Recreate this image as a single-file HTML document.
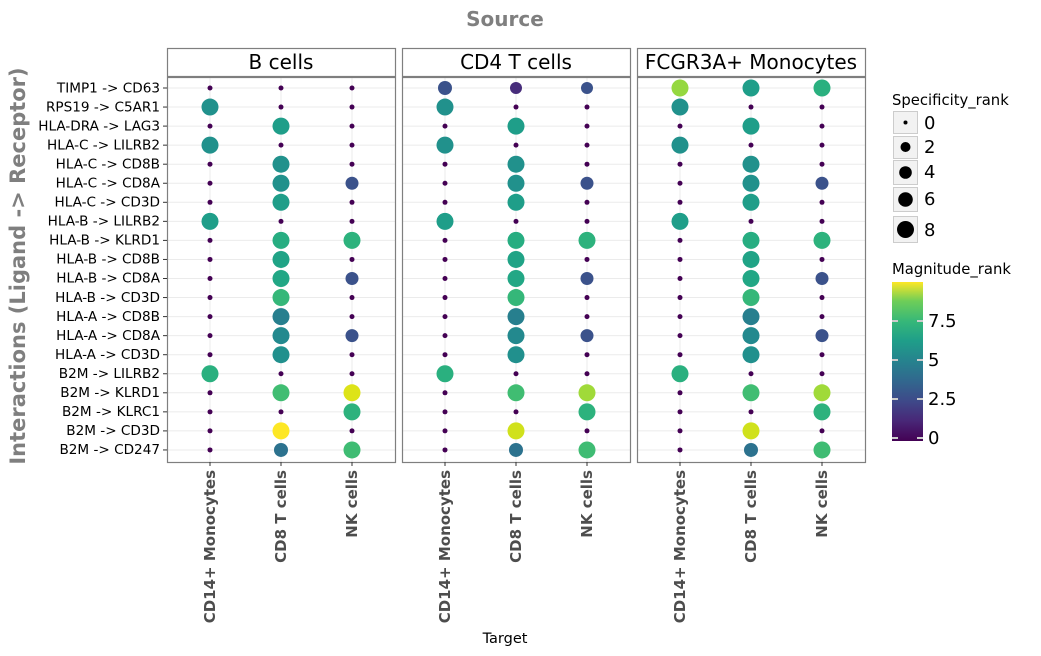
<!DOCTYPE html>
<html><head><meta charset="utf-8"><style>
body{margin:0;background:#fff}
svg{display:block;font-family:"DejaVu Sans","Liberation Sans",sans-serif}
</style></head><body>
<svg width="1041" height="656" viewBox="0 0 1041 656" xmlns="http://www.w3.org/2000/svg">
<defs>
<linearGradient id="vir" x1="0" y1="1" x2="0" y2="0">
<stop offset="0" stop-color="#440154"/><stop offset="0.13" stop-color="#482878"/><stop offset="0.25" stop-color="#3e4989"/><stop offset="0.38" stop-color="#31688e"/><stop offset="0.5" stop-color="#26828e"/><stop offset="0.63" stop-color="#1f9e89"/><stop offset="0.75" stop-color="#35b779"/><stop offset="0.88" stop-color="#6ece58"/><stop offset="1" stop-color="#fde725"/>
</linearGradient>
<g id="grid">
<rect x="0" y="77" width="228" height="385" fill="#fff"/>
<g stroke="#ebebeb" stroke-width="1">
<line x1="0" x2="228" y1="88" y2="88"/><line x1="0" x2="228" y1="107.05" y2="107.05"/><line x1="0" x2="228" y1="126.1" y2="126.1"/><line x1="0" x2="228" y1="145.15" y2="145.15"/><line x1="0" x2="228" y1="164.2" y2="164.2"/><line x1="0" x2="228" y1="183.25" y2="183.25"/><line x1="0" x2="228" y1="202.3" y2="202.3"/><line x1="0" x2="228" y1="221.35" y2="221.35"/><line x1="0" x2="228" y1="240.4" y2="240.4"/><line x1="0" x2="228" y1="259.45" y2="259.45"/><line x1="0" x2="228" y1="278.5" y2="278.5"/><line x1="0" x2="228" y1="297.55" y2="297.55"/><line x1="0" x2="228" y1="316.6" y2="316.6"/><line x1="0" x2="228" y1="335.65" y2="335.65"/><line x1="0" x2="228" y1="354.7" y2="354.7"/><line x1="0" x2="228" y1="373.75" y2="373.75"/><line x1="0" x2="228" y1="392.8" y2="392.8"/><line x1="0" x2="228" y1="411.85" y2="411.85"/><line x1="0" x2="228" y1="430.9" y2="430.9"/><line x1="0" x2="228" y1="449.95" y2="449.95"/>
<line x1="43" x2="43" y1="77" y2="462"/><line x1="114" x2="114" y1="77" y2="462"/><line x1="185" x2="185" y1="77" y2="462"/>
</g>
</g>
<g id="col" fill="#440154">
<circle cx="0" cy="88" r="2.5"/><circle cx="0" cy="107.05" r="2.5"/><circle cx="0" cy="126.1" r="2.5"/><circle cx="0" cy="145.15" r="2.5"/><circle cx="0" cy="164.2" r="2.5"/><circle cx="0" cy="183.25" r="2.5"/><circle cx="0" cy="202.3" r="2.5"/><circle cx="0" cy="221.35" r="2.5"/><circle cx="0" cy="240.4" r="2.5"/><circle cx="0" cy="259.45" r="2.5"/><circle cx="0" cy="278.5" r="2.5"/><circle cx="0" cy="297.55" r="2.5"/><circle cx="0" cy="316.6" r="2.5"/><circle cx="0" cy="335.65" r="2.5"/><circle cx="0" cy="354.7" r="2.5"/><circle cx="0" cy="373.75" r="2.5"/><circle cx="0" cy="392.8" r="2.5"/><circle cx="0" cy="411.85" r="2.5"/><circle cx="0" cy="430.9" r="2.5"/><circle cx="0" cy="449.95" r="2.5"/>
</g>
<g id="common">
<use href="#grid"/>
<use href="#col" x="43"/><use href="#col" x="114"/><use href="#col" x="185"/>
<circle cx="43" cy="107.05" r="8.5" fill="#21918c"/>
<circle cx="114" cy="126.1" r="8.5" fill="#1f9e89"/>
<circle cx="43" cy="145.15" r="8.5" fill="#21918c"/>
<circle cx="114" cy="164.2" r="8.5" fill="#21918c"/>
<circle cx="114" cy="183.25" r="8.5" fill="#21918c"/>
<circle cx="185" cy="183.25" r="6.5" fill="#3b528b"/>
<circle cx="114" cy="202.3" r="8.5" fill="#1f9e89"/>
<circle cx="43" cy="221.35" r="8.5" fill="#1f9e89"/>
<circle cx="114" cy="240.4" r="8.5" fill="#27ad81"/>
<circle cx="185" cy="240.4" r="8.5" fill="#2db27d"/>
<circle cx="114" cy="259.45" r="8.5" fill="#20a386"/>
<circle cx="114" cy="278.5" r="8.5" fill="#22a785"/>
<circle cx="185" cy="278.5" r="6.5" fill="#3b528b"/>
<circle cx="114" cy="297.55" r="8.5" fill="#35b779"/>
<circle cx="114" cy="316.6" r="8.5" fill="#277f8e"/>
<circle cx="114" cy="335.65" r="8.5" fill="#23898e"/>
<circle cx="185" cy="335.65" r="6.5" fill="#3b528b"/>
<circle cx="114" cy="354.7" r="8.5" fill="#21908d"/>
<circle cx="43" cy="373.75" r="8.5" fill="#2ab07f"/>
<circle cx="114" cy="392.8" r="8.5" fill="#40bd72"/>
<circle cx="185" cy="411.85" r="8.5" fill="#2db27d"/>
<circle cx="114" cy="449.95" r="7" fill="#2c728e"/>
<circle cx="185" cy="449.95" r="8.5" fill="#3fbc73"/>
</g>
</defs>

<text x="505" y="26" text-anchor="middle" font-size="20" font-weight="bold" fill="#7f7f7f">Source</text>
<text transform="translate(25,266) rotate(-90)" text-anchor="middle" font-size="21" font-weight="bold" fill="#7f7f7f">Interactions (Ligand -&gt; Receptor)</text>

<g transform="translate(167,0)">
<use href="#common"/>
<circle cx="185" cy="392.8" r="8.5" fill="#dde318"/>
<circle cx="114" cy="430.9" r="8.5" fill="#fde725"/>
</g>
<g transform="translate(402,0)">
<use href="#common"/>
<circle cx="43" cy="88" r="7" fill="#3b528b"/>
<circle cx="114" cy="88" r="6" fill="#472d7b"/>
<circle cx="185" cy="88" r="6" fill="#3b528b"/>
<circle cx="185" cy="392.8" r="8.5" fill="#a0da39"/>
<circle cx="114" cy="430.9" r="8.5" fill="#d0e11c"/>
</g>
<g transform="translate(637,0)">
<use href="#common"/>
<circle cx="43" cy="88" r="8.5" fill="#95d840"/>
<circle cx="114" cy="88" r="8.5" fill="#1f9e89"/>
<circle cx="185" cy="88" r="8.5" fill="#2ab07f"/>
<circle cx="185" cy="392.8" r="8.5" fill="#a0da39"/>
<circle cx="114" cy="430.9" r="8.5" fill="#d0e11c"/>
</g>

<g fill="none" stroke="#7f7f7f" stroke-width="1.2">
<rect x="167.5" y="77.5" width="228" height="385"/><rect x="402.5" y="77.5" width="228" height="385"/><rect x="637.5" y="77.5" width="228" height="385"/>
<rect x="167.5" y="48.5" width="228" height="28" fill="#fff"/><rect x="402.5" y="48.5" width="228" height="28" fill="#fff"/><rect x="637.5" y="48.5" width="228" height="28" fill="#fff"/>
</g>
<g font-size="20" text-anchor="middle" fill="#000">
<text x="281" y="69">B cells</text><text x="516" y="69">CD4 T cells</text><text x="751" y="69">FCGR3A+ Monocytes</text>
</g>

<g stroke="#333" stroke-width="1">
<line x1="163" x2="167" y1="88" y2="88"/><line x1="163" x2="167" y1="107.05" y2="107.05"/><line x1="163" x2="167" y1="126.1" y2="126.1"/><line x1="163" x2="167" y1="145.15" y2="145.15"/><line x1="163" x2="167" y1="164.2" y2="164.2"/><line x1="163" x2="167" y1="183.25" y2="183.25"/><line x1="163" x2="167" y1="202.3" y2="202.3"/><line x1="163" x2="167" y1="221.35" y2="221.35"/><line x1="163" x2="167" y1="240.4" y2="240.4"/><line x1="163" x2="167" y1="259.45" y2="259.45"/><line x1="163" x2="167" y1="278.5" y2="278.5"/><line x1="163" x2="167" y1="297.55" y2="297.55"/><line x1="163" x2="167" y1="316.6" y2="316.6"/><line x1="163" x2="167" y1="335.65" y2="335.65"/><line x1="163" x2="167" y1="354.7" y2="354.7"/><line x1="163" x2="167" y1="373.75" y2="373.75"/><line x1="163" x2="167" y1="392.8" y2="392.8"/><line x1="163" x2="167" y1="411.85" y2="411.85"/><line x1="163" x2="167" y1="430.9" y2="430.9"/><line x1="163" x2="167" y1="449.95" y2="449.95"/>
<line x1="210" x2="210" y1="462" y2="466"/><line x1="281" x2="281" y1="462" y2="466"/><line x1="352" x2="352" y1="462" y2="466"/>
<line x1="445" x2="445" y1="462" y2="466"/><line x1="516" x2="516" y1="462" y2="466"/><line x1="587" x2="587" y1="462" y2="466"/>
<line x1="680" x2="680" y1="462" y2="466"/><line x1="751" x2="751" y1="462" y2="466"/><line x1="822" x2="822" y1="462" y2="466"/>
</g>
<g font-size="13.6" text-anchor="end" fill="#000">
<text x="160" y="92.5">TIMP1 -&gt; CD63</text><text x="160" y="111.5">RPS19 -&gt; C5AR1</text><text x="160" y="130.5">HLA-DRA -&gt; LAG3</text><text x="160" y="149.5">HLA-C -&gt; LILRB2</text><text x="160" y="168.5">HLA-C -&gt; CD8B</text><text x="160" y="187.5">HLA-C -&gt; CD8A</text><text x="160" y="206.5">HLA-C -&gt; CD3D</text><text x="160" y="225.5">HLA-B -&gt; LILRB2</text><text x="160" y="244.5">HLA-B -&gt; KLRD1</text><text x="160" y="263.5">HLA-B -&gt; CD8B</text><text x="160" y="282.5">HLA-B -&gt; CD8A</text><text x="160" y="302">HLA-B -&gt; CD3D</text><text x="160" y="321">HLA-A -&gt; CD8B</text><text x="160" y="340">HLA-A -&gt; CD8A</text><text x="160" y="359">HLA-A -&gt; CD3D</text><text x="160" y="378">B2M -&gt; LILRB2</text><text x="160" y="397">B2M -&gt; KLRD1</text><text x="160" y="416">B2M -&gt; KLRC1</text><text x="160" y="435">B2M -&gt; CD3D</text><text x="160" y="454">B2M -&gt; CD247</text>
</g>
<g font-size="15" font-weight="bold" text-anchor="end" fill="#4d4d4d">
<text transform="translate(215,470) rotate(-90)">CD14+ Monocytes</text><text transform="translate(286,470) rotate(-90)">CD8 T cells</text><text transform="translate(357,470) rotate(-90)">NK cells</text>
<text transform="translate(450,470) rotate(-90)">CD14+ Monocytes</text><text transform="translate(521,470) rotate(-90)">CD8 T cells</text><text transform="translate(592,470) rotate(-90)">NK cells</text>
<text transform="translate(685,470) rotate(-90)">CD14+ Monocytes</text><text transform="translate(756,470) rotate(-90)">CD8 T cells</text><text transform="translate(827,470) rotate(-90)">NK cells</text>
</g>
<text x="505" y="643" text-anchor="middle" font-size="14.5" fill="#000">Target</text>

<text x="892" y="105" font-size="14.8" fill="#000">Specificity_rank</text>
<g fill="#f2f2f2" stroke="#cccccc" stroke-width="1">
<rect x="893.5" y="111.5" width="24" height="22"/><rect x="893.5" y="136.5" width="24" height="22"/><rect x="893.5" y="160.5" width="24" height="24"/><rect x="893.5" y="187.5" width="24" height="24"/><rect x="893.5" y="216.5" width="24" height="26"/>
</g>
<g fill="#000">
<circle cx="905.5" cy="122.5" r="2"/><circle cx="905.5" cy="147" r="5"/><circle cx="905.5" cy="172.5" r="6.3"/><circle cx="905.5" cy="199.5" r="7.3"/><circle cx="905.5" cy="229.5" r="8.5"/>
</g>
<g font-size="18" fill="#000">
<text x="924" y="129">0</text><text x="924" y="153">2</text><text x="924" y="178">4</text><text x="924" y="205">6</text><text x="924" y="236">8</text>
</g>
<text x="892" y="274" font-size="14.8" fill="#000">Magnitude_rank</text>
<rect x="892" y="282" width="31" height="159" fill="url(#vir)"/>
<g stroke="#cccccc" stroke-width="2">
<line x1="892" x2="898" y1="438" y2="438"/><line x1="917" x2="923" y1="438" y2="438"/>
<line x1="892" x2="898" y1="399" y2="399"/><line x1="917" x2="923" y1="399" y2="399"/>
<line x1="892" x2="898" y1="360" y2="360"/><line x1="917" x2="923" y1="360" y2="360"/>
<line x1="892" x2="898" y1="321" y2="321"/><line x1="917" x2="923" y1="321" y2="321"/>
</g>
<g font-size="18" fill="#000">
<text x="928" y="444">0</text><text x="928" y="405">2.5</text><text x="928" y="366">5</text><text x="928" y="327">7.5</text>
</g>
</svg>
</body></html>
